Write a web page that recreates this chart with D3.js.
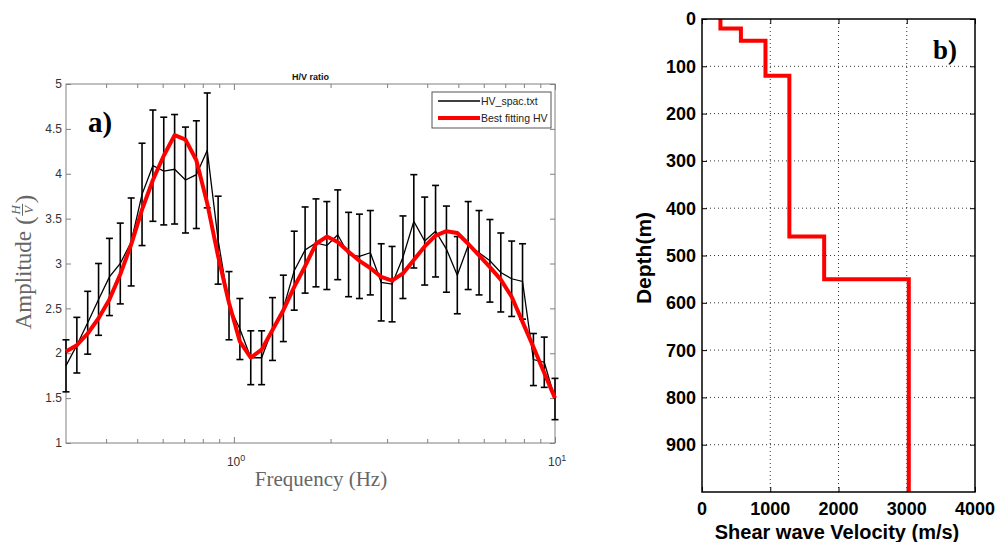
<!DOCTYPE html>
<html>
<head>
<meta charset="utf-8">
<script src="https://cdn.jsdelivr.net/npm/d3@7"></script>
<style>
  body { margin: 0; background: #fff; }
  svg { display: block; }
</style>
</head>
<body>
<svg id="chart" width="999" height="542"></svg>
<script>
// ---- panel a : H/V ratio ----
const freq = [0.300, 0.3243, 0.3505, 0.3789, 0.4096, 0.4428, 0.4787, 0.5175, 0.5594, 0.6047,
  0.6537, 0.7067, 0.7640, 0.8260, 0.8931, 0.9656, 1.0439, 1.1285, 1.2199, 1.3188,
  1.4257, 1.5413, 1.6663, 1.8014, 1.9474, 2.1053, 2.2760, 2.4605, 2.6600, 2.8757,
  3.1089, 3.3609, 3.6334, 3.9280, 4.2465, 4.5908, 4.9630, 5.3654, 5.8004, 6.2707,
  6.7791, 7.3287, 7.9229, 8.5653, 9.2597, 10.0];
const hvMean = [1.86, 2.09, 2.34, 2.60, 2.85, 3.00, 3.24, 3.77, 4.09, 4.03,
  4.05, 3.93, 3.99, 4.26, 3.26, 2.53, 2.27, 1.95, 1.95, 2.27,
  2.50, 2.92, 3.15, 3.23, 3.20, 3.32, 3.10, 3.08, 3.12, 2.79,
  2.77, 3.07, 3.47, 3.25, 3.36, 3.16, 2.87, 3.20, 3.12, 3.03,
  2.90, 2.83, 2.80, 1.93, 1.90, 1.49];
const hvErr = [0.29, 0.31, 0.35, 0.40, 0.43, 0.45, 0.49, 0.57, 0.62, 0.60,
  0.61, 0.59, 0.60, 0.64, 0.49, 0.38, 0.34, 0.30, 0.30, 0.35,
  0.37, 0.44, 0.48, 0.49, 0.49, 0.50, 0.47, 0.47, 0.47, 0.43,
  0.42, 0.46, 0.52, 0.49, 0.51, 0.48, 0.43, 0.49, 0.47, 0.46,
  0.44, 0.42, 0.42, 0.29, 0.28, 0.23];
const hvFit = [2.02, 2.09, 2.22, 2.39, 2.60, 2.88, 3.21, 3.60, 3.93, 4.20,
  4.43, 4.38, 4.15, 3.67, 3.08, 2.56, 2.13, 1.95, 2.04, 2.26,
  2.48, 2.74, 2.97, 3.22, 3.30, 3.24, 3.13, 3.03, 2.95, 2.85,
  2.81, 2.89, 3.04, 3.19, 3.31, 3.36, 3.34, 3.22, 3.09, 2.96,
  2.82, 2.63, 2.35, 2.07, 1.78, 1.50];
const ampTicks = [1, 1.5, 2, 2.5, 3, 3.5, 4, 4.5, 5];
const freqMajor = [1, 10];
const freqMinor = [0.4, 0.5, 0.6, 0.7, 0.8, 0.9, 2, 3, 4, 5, 6, 7, 8, 9];

// ---- panel b : Vs profile ----
const layerTop = [0, 20, 46, 120, 460, 550];
const layerVs = [270, 570, 930, 1280, 1790, 3030];
const maxDepth = 1000;
const vsTicks = [0, 1000, 2000, 3000, 4000];
const depthTicks = [0, 100, 200, 300, 400, 500, 600, 700, 800, 900];

const sans = "'Liberation Sans', Arial, sans-serif";
const serif = "'Liberation Serif', 'Times New Roman', serif";
const svg = d3.select("#chart");

// ================= panel a =================
const ma = { left: 66, right: 555, top: 84, bottom: 443 };
const x = d3.scaleLog().domain([0.3, 10]).range([ma.left, ma.right]);
const y = d3.scaleLinear().domain([1, 5]).range([ma.bottom, ma.top]);
const axisGray = "#808080";

const ga = svg.append("g");

ga.append("rect")
  .attr("x", ma.left).attr("y", ma.top)
  .attr("width", ma.right - ma.left).attr("height", ma.bottom - ma.top)
  .attr("fill", "none").attr("stroke", axisGray).attr("stroke-width", 1);

// inward ticks, matlab style, all four sides
const tickAxis = (axis, tx, ty) => {
  const g = ga.append("g").attr("transform", `translate(${tx},${ty})`).call(axis);
  g.select(".domain").remove();
  g.selectAll("line").attr("stroke", axisGray);
  g.selectAll("text").remove();
  return g;
};
tickAxis(d3.axisBottom(x).tickValues(freqMinor).tickSize(-4), 0, ma.bottom);
tickAxis(d3.axisBottom(x).tickValues(freqMajor).tickSize(-6), 0, ma.bottom);
tickAxis(d3.axisTop(x).tickValues(freqMinor).tickSize(-4), 0, ma.top);
tickAxis(d3.axisTop(x).tickValues(freqMajor).tickSize(-6), 0, ma.top);
tickAxis(d3.axisLeft(y).tickValues(ampTicks).tickSize(-5), ma.left, 0);
tickAxis(d3.axisRight(y).tickValues(ampTicks).tickSize(-5), ma.right, 0);

ga.selectAll(".ytl")
  .data(ampTicks)
  .join("text")
  .attr("class", "ytl")
  .attr("x", ma.left - 4)
  .attr("y", (d) => y(d))
  .attr("dy", "0.35em")
  .attr("text-anchor", "end")
  .attr("font-family", sans)
  .attr("font-size", 12)
  .attr("fill", "#333")
  .text((d) => d);

const xtl = ga.selectAll(".xtl")
  .data(freqMajor)
  .join("text")
  .attr("class", "xtl")
  .attr("x", (d) => x(d) - 7)
  .attr("y", 466)
  .attr("font-family", sans)
  .attr("font-size", 12)
  .attr("fill", "#333");
xtl.append("tspan").text("10");
xtl.append("tspan").attr("dy", -5).attr("font-size", 9).text((d) => Math.round(Math.log10(d)));

// error bars
const bars = ga.append("g").attr("stroke", "#000").attr("stroke-width", 1.6);
const idx = d3.range(freq.length);
bars.selectAll(".eb")
  .data(idx)
  .join("line")
  .attr("class", "eb")
  .attr("x1", (i) => x(freq[i])).attr("x2", (i) => x(freq[i]))
  .attr("y1", (i) => y(hvMean[i] - hvErr[i]))
  .attr("y2", (i) => y(hvMean[i] + hvErr[i]));
bars.selectAll(".capt")
  .data(idx)
  .join("line")
  .attr("class", "capt")
  .attr("x1", (i) => x(freq[i]) - 3.5).attr("x2", (i) => x(freq[i]) + 3.5)
  .attr("y1", (i) => y(hvMean[i] + hvErr[i]))
  .attr("y2", (i) => y(hvMean[i] + hvErr[i]));
bars.selectAll(".capb")
  .data(idx)
  .join("line")
  .attr("class", "capb")
  .attr("x1", (i) => x(freq[i]) - 3.5).attr("x2", (i) => x(freq[i]) + 3.5)
  .attr("y1", (i) => y(hvMean[i] - hvErr[i]))
  .attr("y2", (i) => y(hvMean[i] - hvErr[i]));

const lineA = (vals) => d3.line().x((i) => x(freq[i])).y((i) => y(vals[i]))(idx);

ga.append("path")
  .attr("d", lineA(hvMean))
  .attr("fill", "none").attr("stroke", "#000").attr("stroke-width", 1.3);
ga.append("path")
  .attr("d", lineA(hvFit))
  .attr("fill", "none").attr("stroke", "#ff0000").attr("stroke-width", 4)
  .attr("stroke-linejoin", "round");

// title
ga.append("text")
  .attr("x", (ma.left + ma.right) / 2).attr("y", 80)
  .attr("text-anchor", "middle")
  .attr("font-family", sans).attr("font-size", 9).attr("font-weight", "bold")
  .attr("fill", "#111")
  .text("H/V ratio");

// legend
const lg = ga.append("g");
lg.append("rect")
  .attr("x", 432).attr("y", 92).attr("width", 119).attr("height", 36)
  .attr("fill", "#fff").attr("stroke", "#555").attr("stroke-width", 1);
const legendItems = [
  { label: "HV_spac.txt", color: "#000", w: 1.5, yy: 101 },
  { label: "Best fitting HV", color: "#ff0000", w: 4, yy: 118 },
];
lg.selectAll(".li")
  .data(legendItems)
  .join("line")
  .attr("class", "li")
  .attr("x1", 438).attr("x2", 480)
  .attr("y1", (d) => d.yy).attr("y2", (d) => d.yy)
  .attr("stroke", (d) => d.color).attr("stroke-width", (d) => d.w);
lg.selectAll(".lt")
  .data(legendItems)
  .join("text")
  .attr("class", "lt")
  .attr("x", 481).attr("y", (d) => d.yy + 4)
  .attr("font-family", sans).attr("font-size", 10.5).attr("fill", "#222")
  .text((d) => d.label);

// axis labels
ga.append("text")
  .attr("x", 321).attr("y", 486)
  .attr("text-anchor", "middle")
  .attr("font-family", serif).attr("font-size", 21).attr("fill", "#666")
  .text("Frequency (Hz)");

const yl = ga.append("g").attr("transform", "translate(31,262) rotate(-90)");
const t1 = yl.append("text")
  .attr("font-family", serif).attr("font-size", 23).attr("fill", "#666")
  .text("Amplitude");
const L1 = t1.node().getComputedTextLength() + 6;
const parenL = yl.append("text")
  .attr("font-family", serif).attr("font-size", 26).attr("fill", "#666")
  .attr("y", 2).text("(");
const Lp = parenL.node().getComputedTextLength();
const fracW = 13;
const parenR = yl.append("text")
  .attr("font-family", serif).attr("font-size", 26).attr("fill", "#666")
  .attr("y", 2).text(")");
const total = L1 + Lp + fracW + parenR.node().getComputedTextLength();
const x0 = -total / 2;
t1.attr("x", x0);
parenL.attr("x", x0 + L1);
const fx = x0 + L1 + Lp + fracW / 2;
parenR.attr("x", x0 + L1 + Lp + fracW);
yl.append("text")
  .attr("x", fx).attr("y", -11).attr("text-anchor", "middle")
  .attr("font-family", serif).attr("font-style", "italic").attr("font-size", 13).attr("fill", "#666")
  .text("H");
yl.append("line")
  .attr("x1", fx - 6).attr("x2", fx + 6).attr("y1", -8.5).attr("y2", -8.5)
  .attr("stroke", "#666").attr("stroke-width", 1);
yl.append("text")
  .attr("x", fx).attr("y", 2).attr("text-anchor", "middle")
  .attr("font-family", serif).attr("font-style", "italic").attr("font-size", 13).attr("fill", "#666")
  .text("V");

// panel label
ga.append("text")
  .attr("x", 88).attr("y", 132)
  .attr("font-family", serif).attr("font-size", 29).attr("font-weight", "bold")
  .attr("fill", "#000")
  .text("a)");

// ================= panel b =================
const mb = { left: 702, right: 975, top: 19, bottom: 492 };
const xv = d3.scaleLinear().domain([0, 4000]).range([mb.left, mb.right]);
const yd = d3.scaleLinear().domain([0, maxDepth]).range([mb.top, mb.bottom]);
const gb = svg.append("g");

// dotted grid
gb.selectAll(".gx")
  .data(vsTicks.slice(1, -1))
  .join("line")
  .attr("class", "gx")
  .attr("x1", (d) => xv(d)).attr("x2", (d) => xv(d))
  .attr("y1", mb.top).attr("y2", mb.bottom)
  .attr("stroke", "#333").attr("stroke-width", 1).attr("stroke-dasharray", "1,3");
gb.selectAll(".gy")
  .data(depthTicks.slice(1))
  .join("line")
  .attr("class", "gy")
  .attr("x1", mb.left).attr("x2", mb.right)
  .attr("y1", (d) => yd(d)).attr("y2", (d) => yd(d))
  .attr("stroke", "#333").attr("stroke-width", 1).attr("stroke-dasharray", "1,3");

const tickAxisB = (axis, tx, ty) => {
  const g = gb.append("g").attr("transform", `translate(${tx},${ty})`).call(axis);
  g.select(".domain").remove();
  g.selectAll("line").attr("stroke", "#000");
  g.selectAll("text").remove();
};
tickAxisB(d3.axisBottom(xv).tickValues(vsTicks).tickSize(-5), 0, mb.bottom);
tickAxisB(d3.axisTop(xv).tickValues(vsTicks).tickSize(-5), 0, mb.top);
tickAxisB(d3.axisLeft(yd).tickValues(depthTicks).tickSize(-5), mb.left, 0);
tickAxisB(d3.axisRight(yd).tickValues(depthTicks).tickSize(-5), mb.right, 0);

// velocity step profile
const profile = [];
layerVs.forEach((v, i) => {
  const bottom = i + 1 < layerTop.length ? layerTop[i + 1] : maxDepth;
  profile.push([v, layerTop[i]], [v, bottom]);
});
gb.append("path")
  .attr("d", d3.line().x((d) => xv(d[0])).y((d) => yd(d[1]))(profile))
  .attr("fill", "none").attr("stroke", "#ff0000").attr("stroke-width", 4)
  .attr("stroke-linejoin", "miter");

gb.append("rect")
  .attr("x", mb.left).attr("y", mb.top)
  .attr("width", mb.right - mb.left).attr("height", mb.bottom - mb.top)
  .attr("fill", "none").attr("stroke", "#000").attr("stroke-width", 1.5);

gb.selectAll(".dtl")
  .data(depthTicks)
  .join("text")
  .attr("class", "dtl")
  .attr("x", mb.left - 6).attr("y", (d) => yd(d)).attr("dy", "0.36em")
  .attr("text-anchor", "end")
  .attr("font-family", sans).attr("font-size", 18).attr("font-weight", "bold")
  .text((d) => d);
gb.selectAll(".vtl")
  .data(vsTicks)
  .join("text")
  .attr("class", "vtl")
  .attr("x", (d) => xv(d)).attr("y", 515)
  .attr("text-anchor", "middle")
  .attr("font-family", sans).attr("font-size", 18).attr("font-weight", "bold")
  .text((d) => d);

gb.append("text")
  .attr("x", 837).attr("y", 539)
  .attr("text-anchor", "middle")
  .attr("font-family", sans).attr("font-size", 20).attr("font-weight", "bold")
  .text("Shear wave Velocity (m/s)");
gb.append("text")
  .attr("transform", "translate(651,258) rotate(-90)")
  .attr("text-anchor", "middle")
  .attr("font-family", sans).attr("font-size", 21).attr("font-weight", "bold")
  .text("Depth(m)");

gb.append("text")
  .attr("x", 933).attr("y", 59)
  .attr("font-family", serif).attr("font-size", 27).attr("font-weight", "bold")
  .text("b)");
</script>
</body>
</html>
